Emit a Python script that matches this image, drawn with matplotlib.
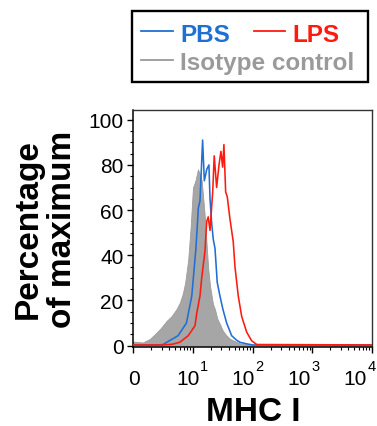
import numpy as np
import matplotlib
matplotlib.use("Agg")
import matplotlib.pyplot as plt
from matplotlib.patches import Rectangle
from matplotlib.lines import Line2D
from matplotlib.ticker import FixedLocator, NullFormatter
from matplotlib.transforms import offset_copy

plt.rcParams['font.family'] = ['Liberation Sans', 'DejaVu Sans']

# ---------------- data (fluorescence intensity, % of max) ----------------
iso_x = [0, 1.6, 2.8, 3.6, 4.5, 5.6, 6.4, 7.2, 7.8, 8.3, 8.7, 9.2, 9.6, 10.0, 11.0,
         12.1, 13.0, 14.0, 15.0, 15.9, 17.0, 18.0, 19.3, 21.6, 23.4, 25.5, 28.3,
         31.8, 36.7, 41.7, 53.9, 61.2, 80, 100, 200, 1000, 10000]
iso_y = [1.8, 1.4, 3.0, 5.0, 7.4, 11, 13, 16, 19, 23, 28, 38, 52, 70, 73,
         78, 76, 73, 64, 56, 44, 34, 26.5, 18.5, 16, 12, 9.5,
         6.5, 4.4, 3.0, 1.6, 1.0, 0.6, 0.4, 0.3, 0.3, 0.3]

pbs_x = [0, 4.0, 5.0, 5.6, 7.5, 8.9, 9.8, 11.2, 12.3, 13.1, 14.5, 15.5, 17.0, 18.5,
         19.3, 20.6, 21.9, 23.4, 25.5, 28.3, 31.8, 36.7, 44.5, 53.9, 61.2, 79.4,
         101, 200, 10000]
pbs_y = [0.3, 0.3, 0.5, 1.5, 4.4, 10, 22, 43, 61, 64, 91, 73, 78, 80,
         65, 54, 47, 43, 28, 22, 16, 10, 4.4, 2.4, 1.5, 0.8,
         0.3, 0.3, 0.3]

lps_x = [0, 5.0, 6.5, 7.8, 9.2, 10.8, 11.5, 13.1, 14.0, 15.9, 17.0, 18.0, 19.3,
         21.4, 22.7, 24.9, 27.3, 29.4, 31.4, 33.0, 35.3, 37.5, 41.7, 47.3, 50.5,
         57.4, 65.4, 79.4, 96, 117, 10000]
lps_y = [0.3, 0.3, 0.6, 1.5, 4.4, 8.8, 14, 22, 30, 42, 55, 57, 51,
         68, 84, 70, 80, 86, 79, 89, 68, 66, 56, 46, 35,
         22, 13, 6, 2.2, 0.5, 0.3]

x_ticks = [0, 10, 100, 1000, 10000]
x_tick_base = ['0', '10', '10', '10', '10']
x_tick_exp = ['', '1', '2', '3', '4']
y_ticks = [0, 20, 40, 60, 80, 100]

series_names = ['PBS', 'LPS', 'Isotype control']
c_pbs = '#1f6fd4'
c_lps = '#ff1a0f'
c_iso = '#a6a6a6'
c_iso_text = '#9a9a9a'

# label centres (axes fraction) as laid out in the original export
label_pos = [0.003, 0.229, 0.459, 0.696, 0.929]

# ---------------- figure ----------------
fig = plt.figure(figsize=(3.77, 4.27), dpi=100)
ax = fig.add_axes([0.3536, 0.185, 0.9867 - 0.3536, 0.74 - 0.185])

ax.set_xscale('symlog', linthresh=10, linscale=0.9)
ax.fill_between(iso_x, iso_y, 0, facecolor=c_iso, edgecolor='#9c9c9c', linewidth=0.6, zorder=1)
ax.plot(pbs_x, pbs_y, color=c_pbs, lw=1.15, zorder=3)
ax.plot(lps_x, lps_y, color=c_lps, lw=1.15, zorder=4)

ax.set_xlim(0, 10000)
ax.set_ylim(-0.6, 104.3)

ax.set_xticks(x_ticks)
ax.set_xticklabels([])
minor = [10 * np.log10(m) for m in range(2, 10)]
for d in (10, 100, 1000):
    minor += [d * m for m in range(2, 10)]
ax.xaxis.set_minor_locator(FixedLocator(minor))
ax.xaxis.set_minor_formatter(NullFormatter())

# x tick labels: "10" with the exponent raised to the right
for xp, b, e in zip(label_pos, x_tick_base, x_tick_exp):
    ax.text(xp, -0.156, b, transform=ax.transAxes, ha='center', va='baseline', fontsize=15,
            clip_on=False)
    if e:
        ax.text(xp, -0.098, e, transform=offset_copy(ax.transAxes, fig=fig, x=8.8, units='points'),
                ha='left', va='baseline', fontsize=10.5, clip_on=False)

ax.set_yticks(y_ticks)
ax.yaxis.set_minor_locator(FixedLocator(np.arange(0, 101, 5)))

ax.tick_params(axis='both', which='major', direction='out', length=4, width=1.0,
               labelsize=15, pad=3, colors='black')
ax.tick_params(axis='both', which='minor', direction='out', length=2.2, width=0.8)
ax.tick_params(top=False, right=False, which='both')

for s in ('left', 'bottom'):
    ax.spines[s].set_linewidth(1.1)
    ax.spines[s].set_color('black')
for s in ('top', 'right'):
    ax.spines[s].set_linewidth(1.0)
    ax.spines[s].set_color('#333333')

fig.text(0.1207, 0.4637, 'Percentage\nof maximum', rotation=90, ha='center', va='center',
         multialignment='center', fontsize=24, fontweight='bold', linespacing=1.12)
fig.text(0.672, 0.0145, 'MHC I', ha='center', va='baseline', fontsize=24, fontweight='bold')

# ---------------- legend box ----------------
fig.add_artist(Rectangle((0.351, 0.8063), 0.626, 0.1649, transform=fig.transFigure,
                         fill=False, edgecolor='black', linewidth=1.7))
fig.add_artist(Line2D([0.373, 0.458], [0.9244, 0.9244], transform=fig.transFigure,
                      color=c_pbs, lw=1.3))
fig.text(0.4775, 0.9023, series_names[0], color=c_pbs, fontsize=17.5, fontweight='bold', va='baseline')
fig.add_artist(Line2D([0.6737, 0.756], [0.9244, 0.9244], transform=fig.transFigure,
                      color=c_lps, lw=1.3))
fig.text(0.7764, 0.9023, series_names[1], color=c_lps, fontsize=17.5, fontweight='bold', va='baseline')
fig.add_artist(Line2D([0.373, 0.458], [1 - 61 / 427, 1 - 61 / 427], transform=fig.transFigure,
                      color=c_iso_text, lw=1.3))
fig.text(0.4775, 1 - 70 / 427, series_names[2], color=c_iso_text, fontsize=17.5,
         fontweight='bold', va='baseline')

fig.savefig('out.png', dpi=100)
